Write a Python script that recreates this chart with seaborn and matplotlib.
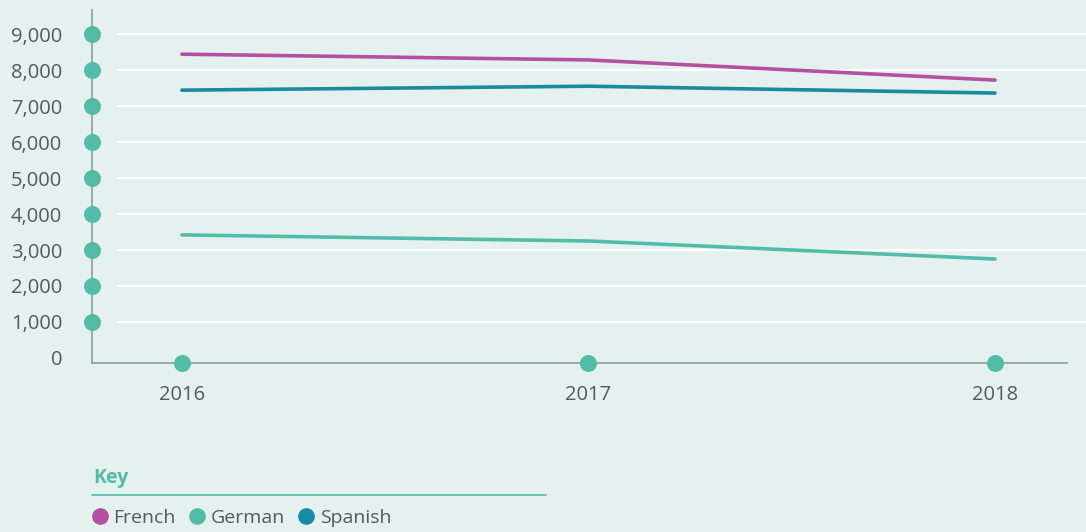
import pandas as pd
import seaborn as sns
import matplotlib.pyplot as plt
from matplotlib.lines import Line2D

# Data
years = [2016, 2017, 2018]
french = [8440, 8280, 7720]
german = [3420, 3250, 2750]
spanish = [7440, 7550, 7360]
y_ticks = [0, 1000, 2000, 3000, 4000, 5000, 6000, 7000, 8000, 9000]

languages = ["French", "German", "Spanish"]
colors = {"French": "#b4509f", "German": "#52bca9", "Spanish": "#1a8aa0"}
bg = "#e5f1ee"
dot = "#52bca9"
text_col = "#555a58"

df = pd.DataFrame({
    "year": years * 3,
    "value": french + german + spanish,
    "language": ["French"] * 3 + ["German"] * 3 + ["Spanish"] * 3,
})

sns.set_style("white")
plt.rcParams["font.family"] = ["Open Sans", "DejaVu Sans"]

fig = plt.figure(figsize=(10.86, 5.32), dpi=100, facecolor=bg)
ax = fig.add_axes([92 / 1086, 1 - 363 / 532, (1067 - 92) / 1086, (363 - 10) / 532])
ax.set_facecolor(bg)

# gridlines run past the right edge of the axes
for v in y_ticks[1:]:
    ax.axhline(v, xmin=0.027, xmax=1.02, color="white", lw=1.6, clip_on=False, zorder=1)

sns.lineplot(data=df, x="year", y="value", hue="language", palette=colors,
             lw=2.6, ax=ax, legend=False, zorder=3)

ax.set_xlim(2015.779, 2018.177)
ax.set_ylim(-139, 9667)

for s in ["top", "right"]:
    ax.spines[s].set_visible(False)
for s in ["left", "bottom"]:
    ax.spines[s].set_color("#8fa8a0")
    ax.spines[s].set_linewidth(1.3)

ax.set_xticks(years)
ax.set_xticklabels([str(y) for y in years])
ax.set_yticks(y_ticks)
ax.set_yticklabels([f"{v:,}" for v in y_ticks])
ax.tick_params(axis="both", length=0, labelsize=14.5, labelcolor=text_col)
ax.tick_params(axis="y", pad=21.5)
ax.tick_params(axis="x", pad=16)
ax.set_xlabel("")
ax.set_ylabel("")

# dots on the axes
ax.scatter([2015.779] * 9, y_ticks[1:], s=150, color=dot, clip_on=False, zorder=5, linewidths=0)
ax.scatter(years, [-139] * 3, s=150, color=dot, clip_on=False, zorder=5, linewidths=0)

# key
fig.text(93 / 1086, 1 - 478 / 532, "Key", color=dot, fontsize=14, fontweight="bold", va="center")
fig.add_artist(Line2D([92 / 1086, 546 / 1086], [1 - 495 / 532] * 2, color=dot, lw=1.2))
handles = [Line2D([], [], marker="o", ls="", markersize=11, color=colors[l], label=l) for l in languages]
fig.legend(handles=handles, loc="center left", bbox_to_anchor=(82 / 1086, 1 - 518 / 532),
           ncol=3, frameon=False, fontsize=14, handlelength=1.0, handletextpad=0.2,
           columnspacing=0.6, labelcolor=text_col, borderaxespad=0)

fig.savefig("out.png", dpi=100, facecolor=bg)
